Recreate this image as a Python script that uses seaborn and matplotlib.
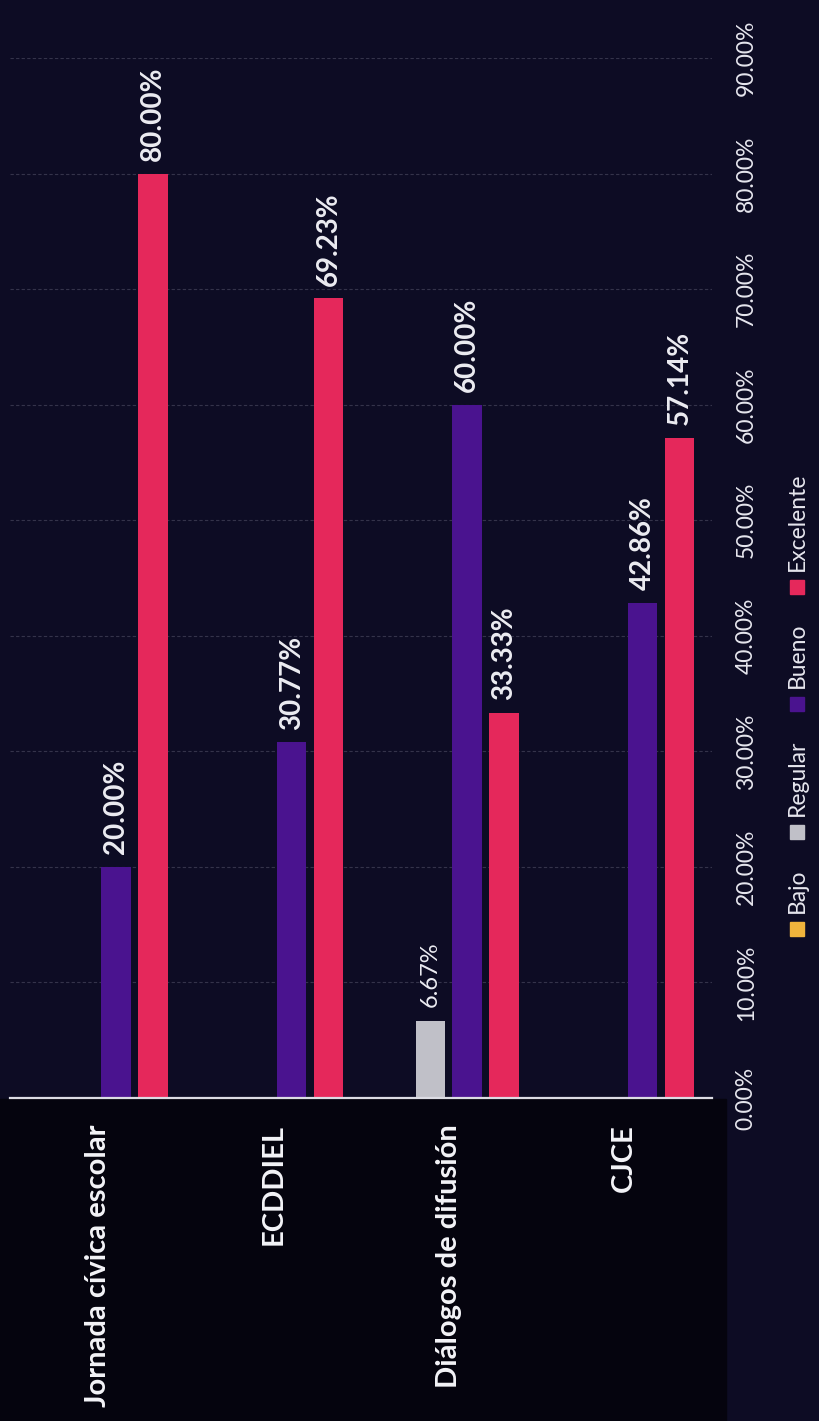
import matplotlib
matplotlib.use("Agg")
import matplotlib.pyplot as plt
from matplotlib.patches import Rectangle
import seaborn as sns
import pandas as pd

categories = ["Jornada cívica escolar", "ECDDIEL", "Diálogos de difusión", "CJCE"]
series = ["Bajo", "Regular", "Bueno", "Excelente"]
bajo = [0.0, 0.0, 0.0, 0.0]
regular = [0.0, 0.0, 6.67, 0.0]
bueno = [20.00, 30.77, 60.00, 42.86]
excelente = [80.00, 69.23, 33.33, 57.14]
colors = ["#f0b43c", "#c0c0c8", "#4a138f", "#e5285b"]
yticks = [0, 10, 20, 30, 40, 50, 60, 70, 80, 90]

rows = []
for s, vals in zip(series, [bajo, regular, bueno, excelente]):
    for c, v in zip(categories, vals):
        rows.append({"cat": c, "serie": s, "val": v})
df = pd.DataFrame(rows)

sns.set_theme(style="dark")
plt.rcParams["font.family"] = ["Lato", "DejaVu Sans"]

W, H = 820, 1421
fig = plt.figure(figsize=(W / 100, H / 100), dpi=100)
bg = "#0d0c24"
fig.patch.set_facecolor(bg)
# darker lower band (below the baseline)
fig.add_artist(Rectangle((0, 0), 0.885, (H - 1099) / H, transform=fig.transFigure,
                         color="#05040e", zorder=0))

ax = fig.add_axes([10 / W, (H - 1098) / H, 702 / W, (1098 - 58) / H])
ax.set_facecolor(bg)

sns.barplot(data=df, x="cat", y="val", hue="serie", order=categories,
            hue_order=series, palette=colors, width=0.84, gap=0.2,
            saturation=1, legend=False, ax=ax, zorder=3,
            edgecolor="none", linewidth=0)

ax.set_ylim(0, 90)
ax.set_xlim(-0.5, 3.5)
ax.set_yticks(yticks)
ax.set_yticklabels([f"{t:.2f}%" for t in yticks])
ax.yaxis.tick_right()
ax.tick_params(axis="y", length=0, pad=17, labelrotation=90, labelsize=16.5,
               labelcolor="#e6e6ee")
for lab in ax.get_yticklabels():
    lab.set_va("center")
    lab.set_ha("left")
ax.tick_params(axis="x", length=0, pad=19, labelrotation=90, labelsize=21,
               labelcolor="#f4f4f8")
for lab in ax.get_xticklabels():
    lab.set_fontweight("bold")
    lab.set_ha("center")
    lab.set_va("top")
ax.set_xlabel("")
ax.set_ylabel("")

ax.grid(axis="y", color="#34334a", linewidth=0.8, linestyle=(0, (3, 2)), zorder=0)
ax.grid(axis="x", visible=False)
for side in ["top", "left", "right"]:
    ax.spines[side].set_visible(False)
ax.spines["bottom"].set_visible(True)
ax.spines["bottom"].set_color("#dcdce4")
ax.spines["bottom"].set_linewidth(1.6)
ax.spines["bottom"].set_zorder(4)

for s, cont in zip(series, ax.containers):
    labels = [f"{v:.2f}%" if v > 0 else "" for v in cont.datavalues]
    if s == "Regular":
        ax.bar_label(cont, labels=labels, rotation=90, padding=10, fontsize=17,
                     fontweight="normal", color="#ececf2")
    else:
        ax.bar_label(cont, labels=labels, rotation=90, padding=9, fontsize=20,
                     fontweight="bold", color="#ececf2")

# legend drawn rotated, from bottom to top
fig.canvas.draw()
renderer = fig.canvas.get_renderer()
xc = 797
sq = 14
gap_in = 9
top_px, bottom_px = 472, 936
texts = []
for s in series:
    t = fig.text(0, 0, s, rotation=90, ha="center", va="bottom",
                 fontsize=16.5, color="#e6e6ee")
    texts.append(t)
heights = [t.get_window_extent(renderer).height for t in texts]
total = bottom_px - top_px
gap_out = (total - len(series) * (sq + gap_in) - sum(heights)) / (len(series) - 1)
y = H - bottom_px
for t, h, col in zip(texts, heights, colors):
    fig.add_artist(Rectangle(((xc - sq / 2) / W, y / H), sq / W, sq / H,
                             transform=fig.transFigure, color=col, zorder=5))
    y += sq + gap_in
    t.set_position((xc / W, y / H))
    y += h + gap_out

fig.savefig("out.png", dpi=100, facecolor=fig.get_facecolor())
